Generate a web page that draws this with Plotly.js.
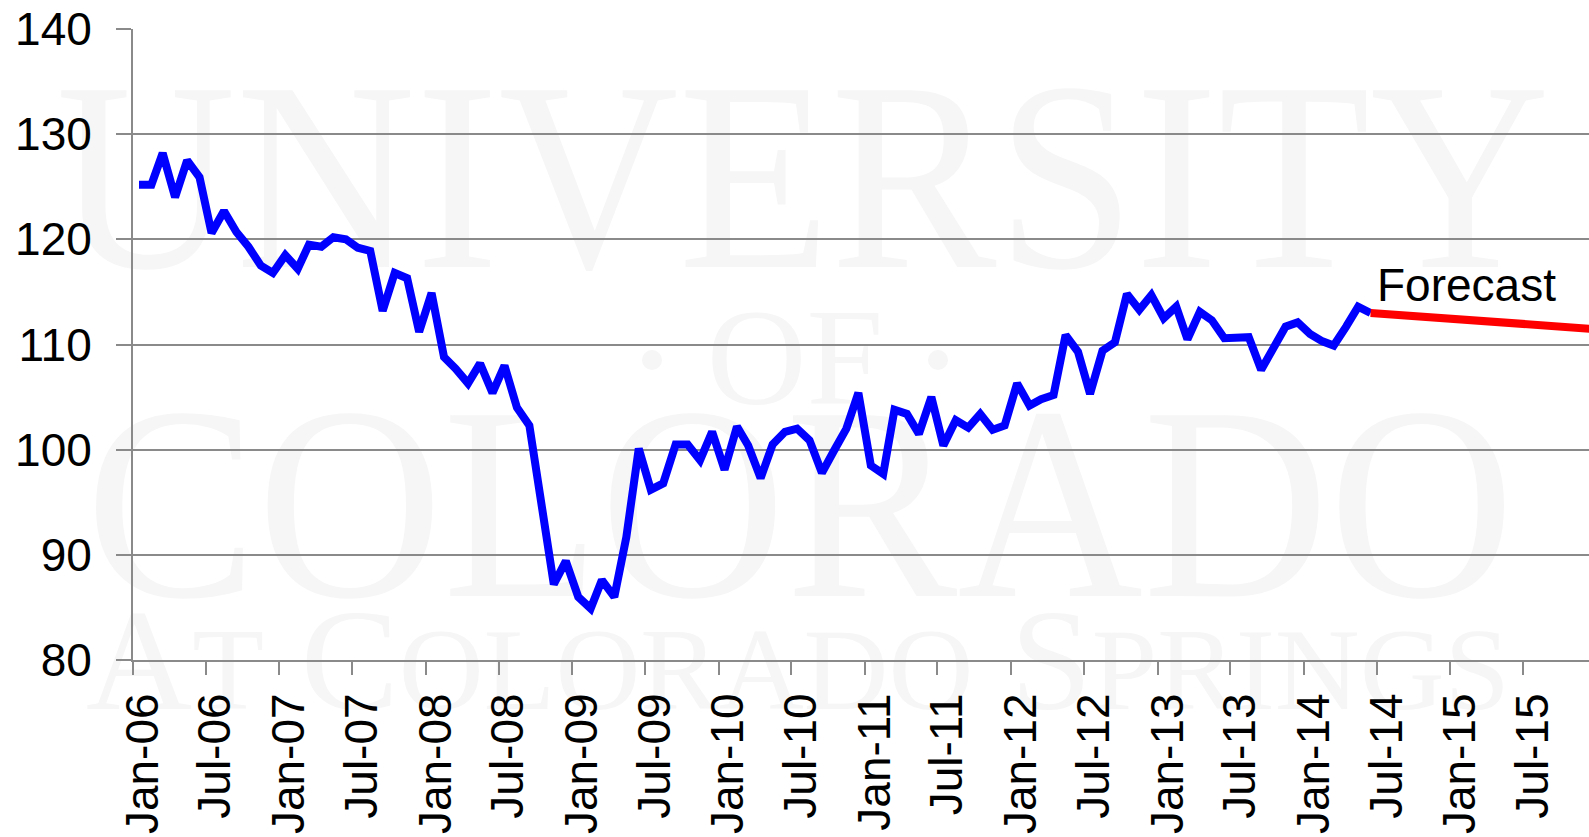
<!DOCTYPE html>
<html>
<head>
<meta charset="utf-8">
<script src="https://cdn.plot.ly/plotly-3.0.1.min.js"></script>
<style>
  html, body { margin: 0; padding: 0; background: #ffffff; }
  #wrap { position: relative; width: 1589px; height: 837px; overflow: hidden; background: #ffffff; }
  #wm { position: absolute; left: 0; top: 0; z-index: 0; }
  #chart { position: absolute; left: 0; top: 0; z-index: 1; width: 1589px; height: 837px; }
</style>
</head>
<body>
<div id="wrap">
  <svg id="wm" width="1589" height="837" xmlns="http://www.w3.org/2000/svg">
    <g fill="#f6f6f6" font-family="'Liberation Serif','DejaVu Serif',serif">
      <text x="803" y="267" text-anchor="middle" font-size="270" textLength="1494" lengthAdjust="spacingAndGlyphs">UNIVERSITY</text>
      <circle cx="652" cy="360" r="10"></circle>
      <text x="795" y="404" text-anchor="middle" font-size="138">OF</text>
      <circle cx="938" cy="360" r="10"></circle>
      <text x="800" y="596" text-anchor="middle" font-size="276" textLength="1429" lengthAdjust="spacingAndGlyphs">COLORADO</text>
      <text x="798" y="709" text-anchor="middle" font-size="145" textLength="1424" lengthAdjust="spacingAndGlyphs">A<tspan font-size="116">T</tspan> C<tspan font-size="116">OLORADO</tspan> S<tspan font-size="116">PRINGS</tspan></text>
    </g>
  </svg>
  <div id="chart"></div>
</div>
<script>
// ---- data ----
const startYear = 2006;
const startMonth = 1;
const actualValues = [
  125.2, 125.2, 128.2, 124.0, 127.5, 125.9, 120.6, 122.7, 120.7, 119.3, 117.5, 116.8,
  118.5, 117.2, 119.5, 119.3, 120.2, 120.0, 119.2, 118.9, 113.2, 116.8, 116.3, 111.2,
  114.9, 108.8, 107.7, 106.3, 108.2, 105.4, 108.0, 104.0, 102.3, 94.8, 87.2, 89.4,
  86.0, 84.9, 87.6, 86.0, 91.7, 100.1, 96.2, 96.8, 100.5, 100.5, 99.0, 101.7,
  98.1, 102.2, 100.4, 97.3, 100.5, 101.7, 102.0, 100.9, 97.8, 99.9, 102.0, 105.4,
  98.5, 97.7, 103.8, 103.4, 101.5, 105.0, 100.4, 102.8, 102.1, 103.4, 101.9, 102.3,
  106.3, 104.2, 104.8, 105.2, 110.9, 109.3, 105.3, 109.4, 110.2, 114.8, 113.3, 114.7,
  112.5, 113.6, 110.5, 113.1, 112.3, 110.6, 110.6, 110.7, 107.6, 109.7, 111.7, 112.1,
  111.0, 110.3, 109.9, 111.7, 113.6, 113.0
];
const forecastDates = ['2014-06-16', '2015-12-16'];
const forecastValues = [113.0, 111.5];
const annotationText = 'Forecast';

// month categories (mid-month positions on a date axis)
const actualDates = actualValues.map(function (v, i) {
  const total = (startMonth - 1) + i;
  const y = startYear + Math.floor(total / 12);
  const m = (total % 12) + 1;
  return y + '-' + (m < 10 ? '0' + m : m) + '-16';
});

const gridGray = '#8a8a8a';
const tickFont = { family: "'Liberation Sans', Arial, sans-serif", size: 46, color: '#000000' };

const traces = [
  {
    x: actualDates, y: actualValues, type: 'scatter', mode: 'lines',
    line: { color: '#0000FF', width: 8 }, hoverinfo: 'skip', showlegend: false
  },
  {
    x: forecastDates, y: forecastValues, type: 'scatter', mode: 'lines',
    line: { color: '#FF0000', width: 8 }, hoverinfo: 'skip', showlegend: false
  }
];

const layout = {
  width: 1589, height: 837,
  margin: { l: 133, r: 0, t: 29, b: 177, pad: 0 },
  paper_bgcolor: 'rgba(0,0,0,0)',
  plot_bgcolor: 'rgba(0,0,0,0)',
  showlegend: false,
  xaxis: {
    type: 'date',
    range: ['2006-01-01', '2015-12-13'],
    tick0: '2006-01-01', dtick: 'M6', tickformat: '%b-%y',
    tickangle: -90,
    showgrid: false, zeroline: false,
    showline: true, linecolor: gridGray, linewidth: 2,
    ticks: 'outside', ticklen: 13, tickwidth: 2, tickcolor: gridGray,
    tickfont: tickFont, ticklabelstandoff: 0, ticklabelshift: 10,
    fixedrange: true
  },
  yaxis: {
    range: [80, 140], dtick: 10, tick0: 80,
    showgrid: true, gridcolor: gridGray, gridwidth: 2,
    zeroline: false,
    showline: true, linecolor: gridGray, linewidth: 2,
    ticks: 'outside', ticklen: 15, tickwidth: 2, tickcolor: gridGray,
    tickfont: tickFont, ticklabelstandoff: 15,
    fixedrange: true
  },
  annotations: [
    {
      x: '2014-06-27', y: 115.7, xref: 'x', yref: 'y',
      xanchor: 'left', yanchor: 'middle', showarrow: false,
      text: annotationText,
      font: { family: "'Liberation Sans', Arial, sans-serif", size: 46, color: '#000000' }
    }
  ]
};

Plotly.newPlot('chart', traces, layout, { staticPlot: true, displayModeBar: false });
</script>
</body>
</html>
